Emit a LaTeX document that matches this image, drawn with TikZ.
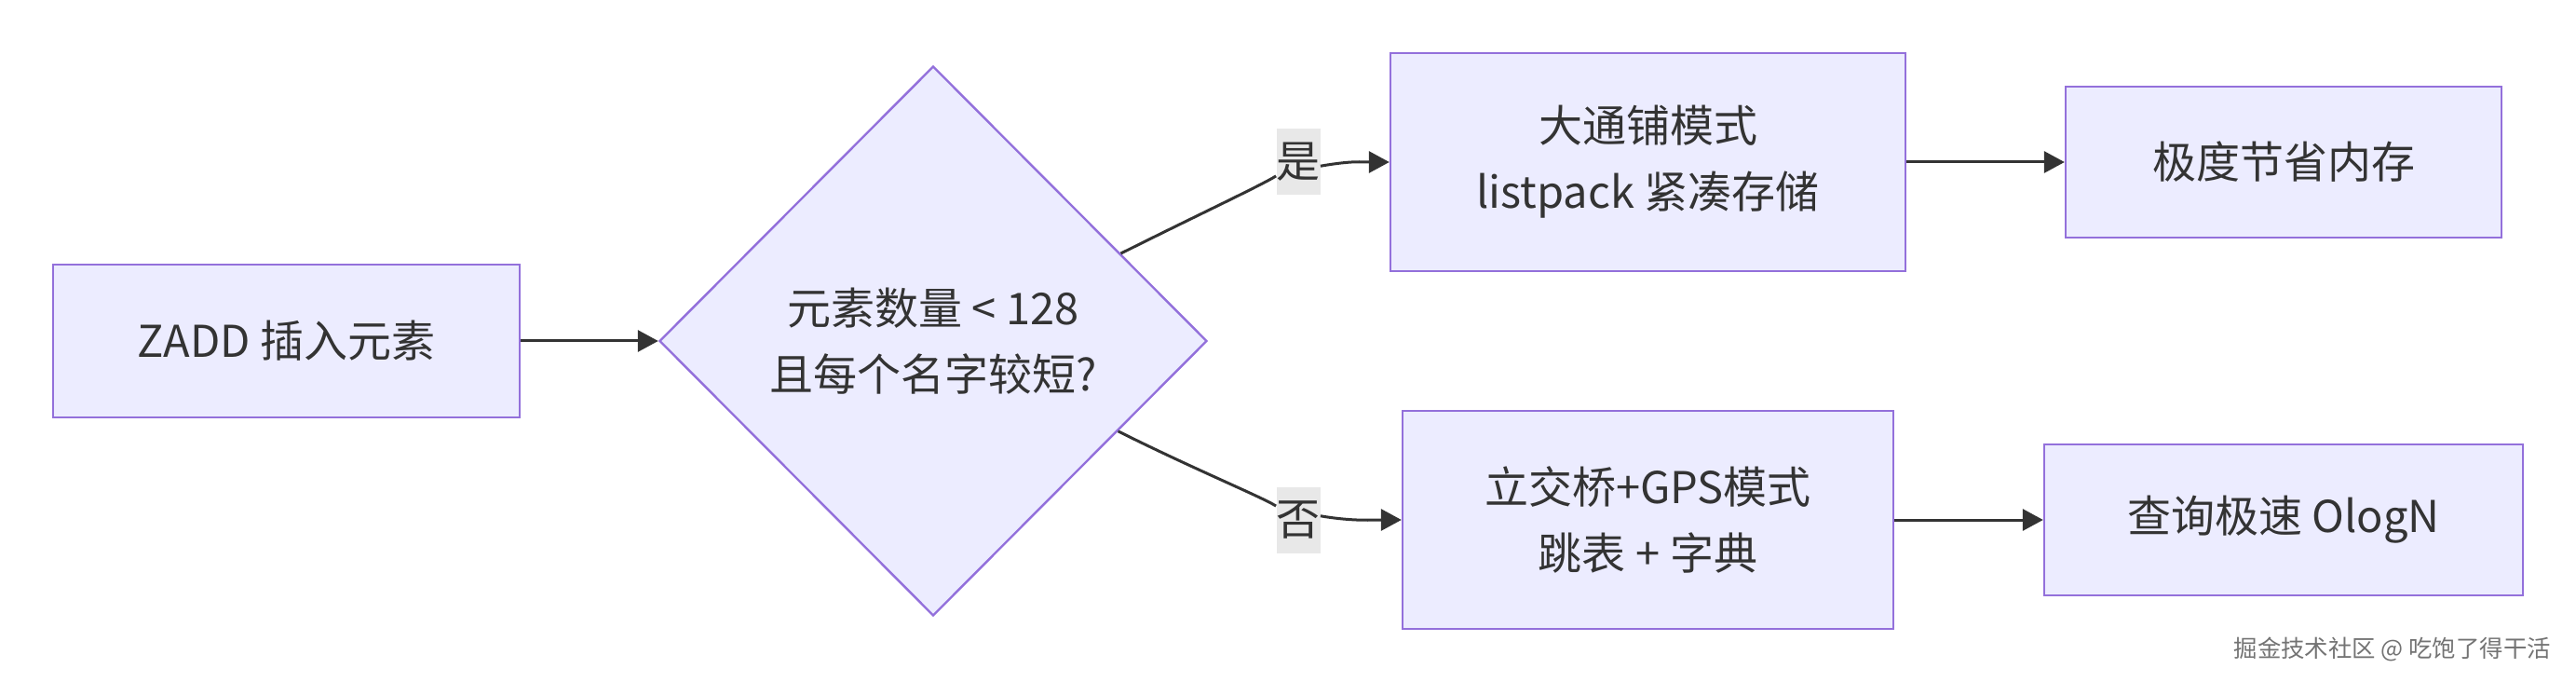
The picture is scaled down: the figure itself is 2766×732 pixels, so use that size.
\documentclass[tikz,border=0pt]{standalone}
\usepackage{fontspec}
\setmainfont{Noto Sans CJK SC}
\usetikzlibrary{shapes.geometric,arrows.meta}
\definecolor{boxfill}{HTML}{ECECFF}
\definecolor{boxline}{HTML}{9370DB}
\definecolor{ink}{HTML}{333333}
\definecolor{lblfill}{HTML}{E8E8E8}
\begin{document}
\begin{tikzpicture}[
    x=0.5pt, y=-0.5pt,
    every node/.style={text=ink, font=\fontsize{23.5}{35.5}\selectfont},
    proc/.style={draw=boxline, fill=boxfill, line width=1.2pt, align=center, inner sep=0pt},
    decision/.style={proc, diamond, aspect=1},
    lbl/.style={fill=lblfill, inner sep=0pt, minimum width=23.5pt, minimum height=35.5pt},
    flow/.style={draw=ink, line width=1.5pt, -{Triangle[length=11pt,width=11.5pt]}}]
  \useasboundingbox (0,0) rectangle (2766,732);
  \node[proc, minimum width=250.5pt, minimum height=82pt] (zadd) at (307.5,366) {ZADD 插入元素};
  \node[decision, minimum width=294pt, minimum height=295pt] (check) at (1002,366) {元素数量 < 128\\且每个名字较短?};
  \node[proc, minimum width=276.5pt, minimum height=117pt] (flat) at (1769.5,174) {大通铺模式\\listpack 紧凑存储};
  \node[proc, minimum width=234pt, minimum height=81pt] (save) at (2452,174) {极度节省内存};
  \node[proc, minimum width=263.5pt, minimum height=117pt] (skip) at (1769.5,558) {立交桥+GPS模式\\跳表 + 字典};
  \node[proc, minimum width=257pt, minimum height=81pt] (fast) at (2452,558) {查询极速 OlogN};
  \node[lbl] (yes) at (1394,174) {是};
  \node[lbl] (no) at (1394,558) {否};
  \node[anchor=east, text=black!55, font=\fontsize{12.7}{15}\selectfont] (mark) at (2746,697) {掘金技术社区 @ 吃饱了得干活};
  \draw[flow] (zadd) -- (check);
  \draw[flow, -] (check.25) .. controls +(80,-40) and +(-40,25) .. (yes);
  \draw[flow] (yes.-10) .. controls +(35,-6) and +(-30,0) .. (flat.west);
  \draw[flow, -] (check.-26) .. controls +(80,40) and +(-40,-25) .. (no);
  \draw[flow] (no.10) .. controls +(35,6) and +(-30,0) .. (skip.west);
  \draw[flow] (flat) -- (save);
  \draw[flow] (skip) -- (fast);
\end{tikzpicture}
\end{document}
